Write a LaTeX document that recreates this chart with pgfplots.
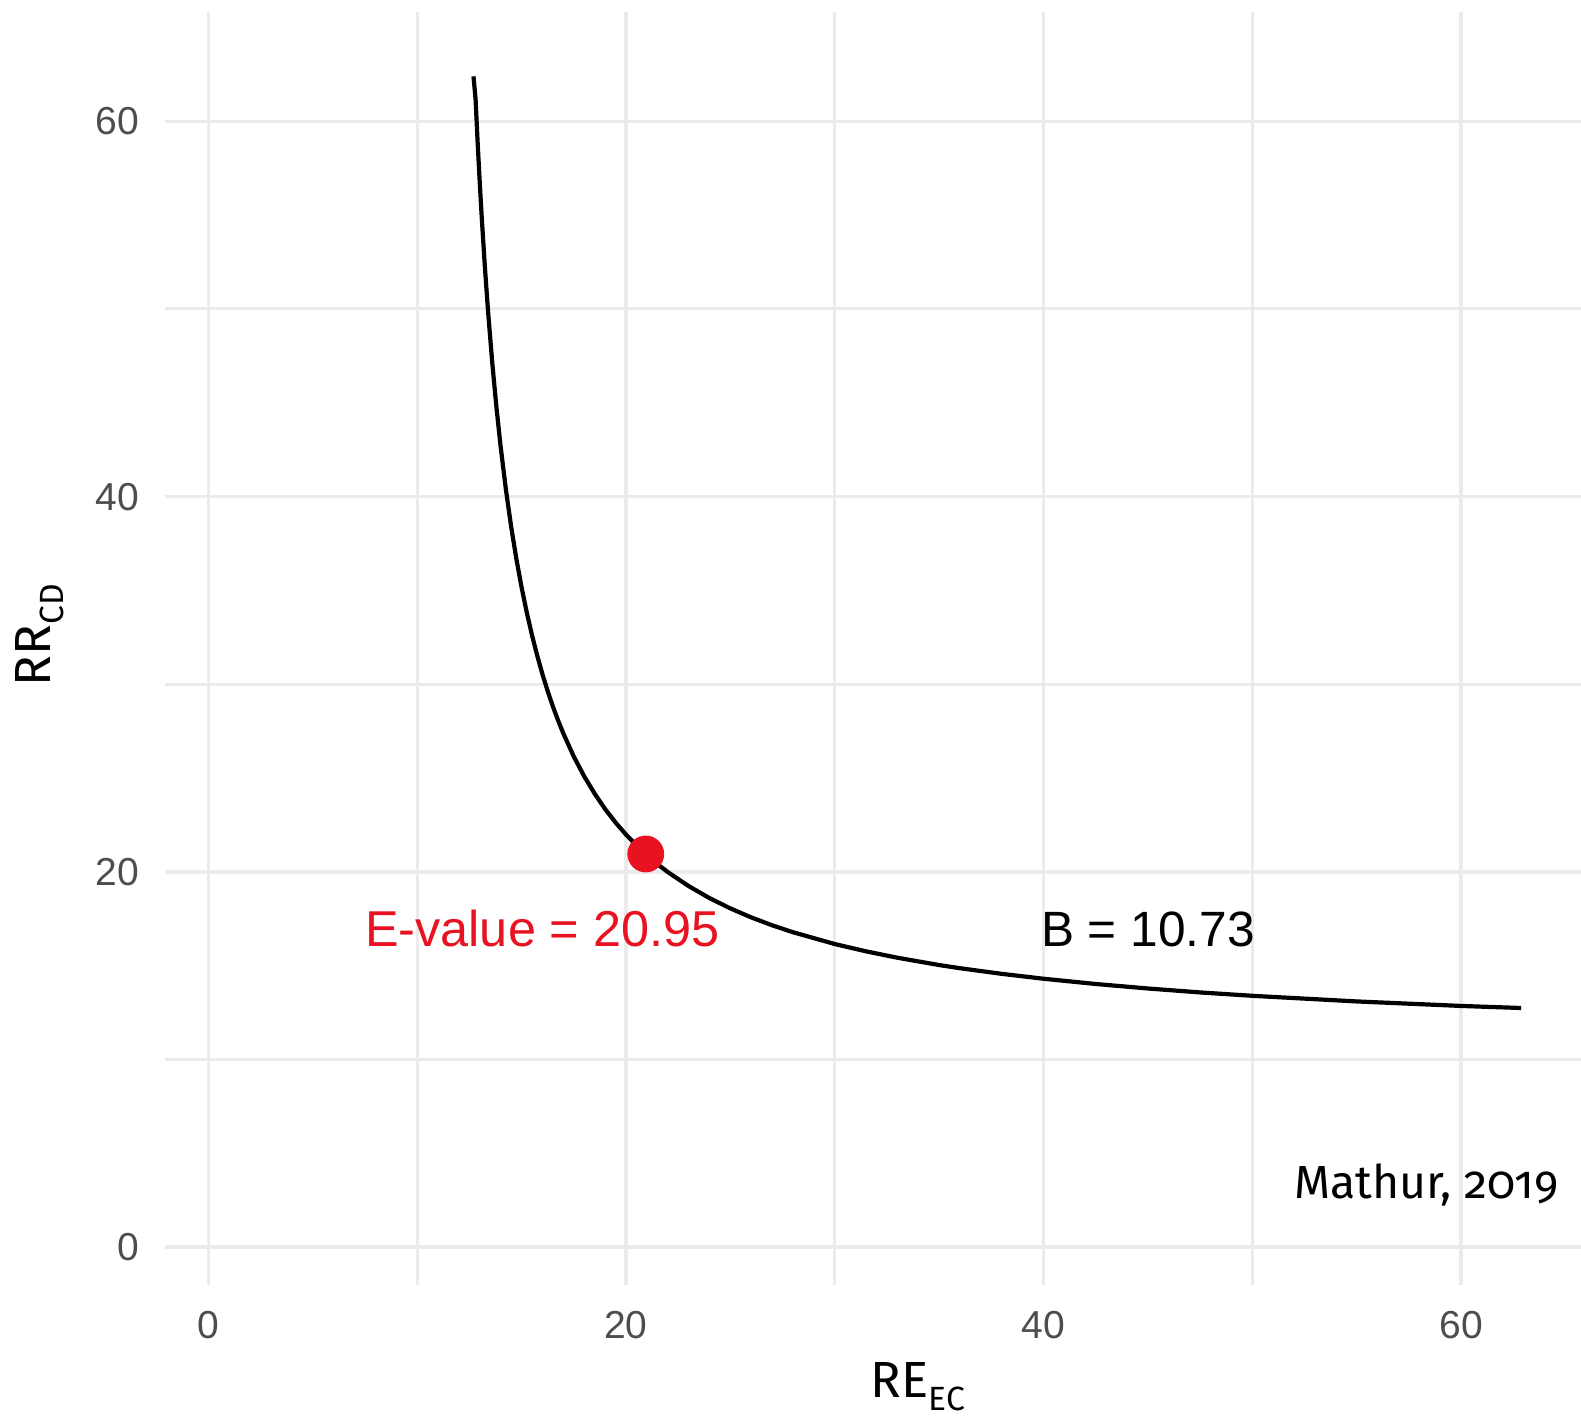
\documentclass[border=0pt]{standalone}
\usepackage{pgfplots}
\pgfplotsset{compat=1.18}
\usepackage{fontspec}
\setmainfont{Liberation Sans}
\newfontfamily\labfont[Numbers=OldStyle]{Fira Sans}

\definecolor{gridgray}{RGB}{235,235,235}
\definecolor{ticktext}{RGB}{77,77,77}
\definecolor{evred}{RGB}{232,18,32}

\begin{document}
\begin{tikzpicture}
\begin{axis}[
    scale only axis,
    width=354pt, height=318.25pt,
    xmin=-2.074, xmax=65.74,
    ymin=-2.026, ymax=65.83,
    xtick={0,20,40,60},
    ytick={0,20,40,60},
    minor xtick={10,30,50},
    minor ytick={10,30,50},
    grid=both,
    major grid style={line width=0.875pt, gridgray},
    minor grid style={line width=0.75pt, gridgray},
    axis line style={draw=none},
    major tick length=0pt, minor tick length=0pt,
    /pgf/number format/assume math mode=true,
    ticklabel style={font=\fontsize{9.75}{11}\selectfont, text=ticktext, inner sep=0pt},
    xticklabel style={anchor=north, yshift=-6.25pt},
    yticklabel style={anchor=east, xshift=-6.25pt},
    xlabel={\labfont\fontsize{12.7}{14}\selectfont RE\raisebox{-3.25pt}{\fontsize{8.4}{10}\selectfont EC}},
    xlabel style={at={(axis description cs:0.498,-0.088)}, anchor=base west, inner sep=0pt},
    ylabel={\labfont\fontsize{12.7}{14}\selectfont RR\raisebox{-3.25pt}{\fontsize{8.4}{10}\selectfont CD}},
    ylabel style={at={(axis description cs:-0.0812,0.4698)}, rotate=0, anchor=base west, inner sep=0pt},
    clip=false,
]
% bias curve, B = 10.73
\addplot[black, line width=1.05pt, line join=round] coordinates {
(12.7,62.4) (12.8,61.17) (12.9,58.84) (13.0,56.72) (13.1,54.78) (13.25,52.16)
(13.4,49.83) (13.6,47.11) (13.8,44.74) (14.0,42.66) (14.25,40.39) (14.5,38.42)
(14.75,36.70) (15,35.18) (15.25,33.83) (15.5,32.62) (15.75,31.53) (16,30.54)
(16.25,29.64) (16.5,28.82) (16.75,28.07) (17,27.38) (17.5,26.15) (18,25.09)
(18.5,24.17) (19,23.35) (19.5,22.63) (20,21.99) (20.5,21.42) (21,20.90)
(21.5,20.42) (22,19.99) (23,19.24) (24,18.60) (25,18.05) (26,17.57) (27,17.15)
(28,16.78) (30,16.15) (31.5,15.76) (33,15.42) (35,15.03) (36,14.86) (38,14.56)
(40,14.30) (42.5,14.02) (45,13.78) (47.5,13.57) (50,13.39) (55,13.09)
(60,12.85) (62.87,12.74)
};
% E-value point
\addplot[only marks, mark=*, mark size=4.4pt, draw=evred, fill=evred] coordinates {(20.95,20.95)};

\node[anchor=base, text=evred, font=\fontsize{12.6}{14}\selectfont, inner sep=0pt] at (axis cs:16,16.0) {E-value = 20.95};
\node[anchor=base, font=\fontsize{12.4}{14}\selectfont, inner sep=0pt] at (axis cs:45,16.0) {B = 10.73};
\node[anchor=base east, font=\labfont\fontsize{11.6}{14}\selectfont, inner sep=0pt] at (axis cs:64.7,2.6) {Mathur, 2019};
\end{axis}
\pgfresetboundingbox
\path (-41.25pt,-33.25pt) rectangle (354pt,321.25pt);
\end{tikzpicture}
\end{document}
